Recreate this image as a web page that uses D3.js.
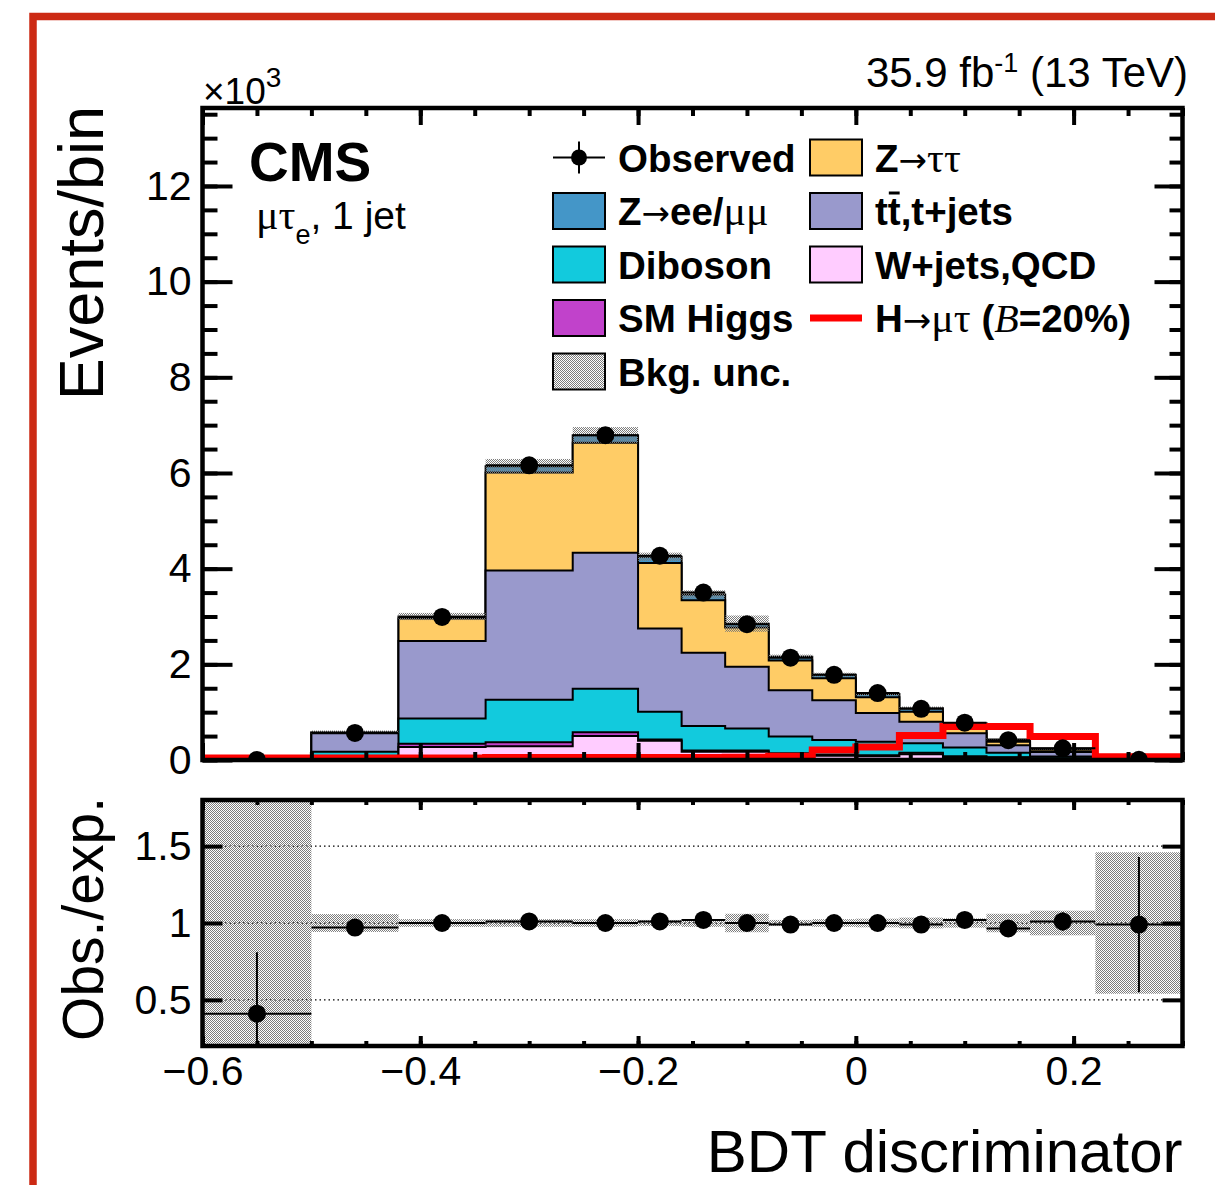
<!DOCTYPE html>
<html>
<head>
<meta charset="utf-8">
<script src="https://cdn.jsdelivr.net/npm/d3@7"></script>
<style>
    body{ margin:0; background:#fff; }
    svg{ display:block; }
</style>
</head>
<body>
<svg id="chart" width="1215" height="1185"></svg>
<script>
// bin edges of the BDT discriminator
var binEdges = [-0.6, -0.5, -0.42, -0.34, -0.26, -0.2, -0.16, -0.12, -0.08, -0.04, 0, 0.04, 0.08, 0.12, 0.16, 0.22, 0.3];

// expected backgrounds, thousands of events per bin (stack order bottom -> top)
var wjetsQcd = [0, 0.04, 0.27, 0.29, 0.50, 0.40, 0.17, 0.17, 0.11, 0.09, 0.08, 0.12, 0.06, 0.05, 0.03, 0.0005];
var smHiggs  = [0, 0.005, 0.07, 0.08, 0.08, 0.03, 0.03, 0.03, 0.03, 0.02, 0.02, 0.03, 0.02, 0.01, 0.005, 0];
var diboson  = [0.0003, 0.125, 0.53, 0.89, 0.91, 0.58, 0.51, 0.46, 0.35, 0.31, 0.28, 0.20, 0.18, 0.09, 0.04, 0.001];
var ttbar    = [0.0017, 0.39, 1.62, 2.70, 2.84, 1.74, 1.53, 1.29, 0.97, 0.83, 0.60, 0.45, 0.30, 0.16, 0.09, 0.002];
var zTauTau  = [0.0003, 0.012, 0.47, 2.05, 2.30, 1.37, 1.10, 0.82, 0.62, 0.46, 0.33, 0.21, 0.15, 0.07, 0.05, 0.001];
var zLL      = [0.0002, 0.01, 0.04, 0.13, 0.16, 0.13, 0.12, 0.08, 0.08, 0.07, 0.07, 0.07, 0.06, 0.05, 0.025, 0.0005];

// relative background uncertainty per bin
var bkgUnc   = [1.0, 0.058, 0.025, 0.025, 0.025, 0.02, 0.025, 0.06, 0.02, 0.025, 0.028, 0.035, 0.03, 0.06, 0.08, 0.46];

// signal H->mutau (B=20%), thousands of events
var signal   = [0.04, 0.04, 0.04, 0.05, 0.05, 0.05, 0.05, 0.06, 0.08, 0.21, 0.27, 0.51, 0.70, 0.70, 0.49, 0.07];

// observed, thousands of events
var observed = [0.001, 0.565, 2.99, 6.16, 6.79, 4.27, 3.50, 2.84, 2.14, 1.78, 1.40, 1.07, 0.78, 0.415, 0.245, 0.005];

// obs./exp. ratio and its error bars
var ratio      = [0.41, 0.97, 1.0, 1.01, 1.0, 1.01, 1.02, 1.0, 0.99, 1.0, 1.0, 0.99, 1.02, 0.965, 1.01, 0.99];
var ratioErrUp = [0.40, 0.02, 0.02, 0.015, 0.015, 0.02, 0.02, 0.02, 0.025, 0.025, 0.03, 0.03, 0.04, 0.05, 0.06, 0.44];
var ratioErrDn = [0.41, 0.02, 0.02, 0.015, 0.015, 0.02, 0.02, 0.02, 0.025, 0.025, 0.03, 0.03, 0.04, 0.05, 0.06, 0.44];

// tick labels
var yTicks      = [0, 2, 4, 6, 8, 10, 12];
var ratioTicks  = [0.5, 1, 1.5];
var xTicks      = [-0.6, -0.4, -0.2, 0, 0.2];

var SANS = '"Liberation Sans", Arial, Helvetica, sans-serif',
    SERIF = '"Liberation Serif", "Times New Roman", serif',
    ARROW = '"DejaVu Sans", sans-serif';

var svg = d3.select('#chart'),
    box = { left: 202.5, right: 1182.5, top: 108, bottom: 760 },
    rbox = { top: 800, bottom: 1046 };

var x = d3.scaleLinear().domain([-0.6, 0.3]).range([box.left, box.right]),
    y = d3.scaleLinear().domain([0, 13.63]).range([box.bottom, box.top]),
    yr = d3.scaleLinear().domain([0.2, 1.8]).range([rbox.bottom, rbox.top]);

var nBins = binEdges.length - 1;

// hatch pattern for the uncertainty band
var defs = svg.append('defs');
var pat = defs.append('pattern')
    .attr('id', 'hatch')
    .attr('patternUnits', 'userSpaceOnUse')
    .attr('width', 2)
    .attr('height', 2);
pat.append('rect').attr('x', 0).attr('y', 0).attr('width', 1).attr('height', 1).attr('fill', '#7c7c7c');
pat.append('rect').attr('x', 1).attr('y', 1).attr('width', 1).attr('height', 1).attr('fill', '#7c7c7c');

defs.append('clipPath').attr('id', 'clipTop')
    .append('rect')
    .attr('x', box.left).attr('y', box.top)
    .attr('width', box.right - box.left).attr('height', box.bottom - box.top);
defs.append('clipPath').attr('id', 'clipRatio')
    .append('rect')
    .attr('x', box.left).attr('y', rbox.top)
    .attr('width', box.right - box.left).attr('height', rbox.bottom - rbox.top);

// red outer frame
svg.append('path')
    .attr('d', 'M33,1200 L33,16.5 L1230,16.5')
    .attr('fill', 'none')
    .attr('stroke', 'rgb(204,42,20)')
    .attr('stroke-width', 7.5);

// ---------- stacked backgrounds ----------
var layers = [
    { vals: wjetsQcd, color: '#ffccff' },
    { vals: smHiggs,  color: '#c142cb' },
    { vals: diboson,  color: '#12cadd' },
    { vals: ttbar,    color: '#9999cc' },
    { vals: zTauTau,  color: '#ffcc66' },
    { vals: zLL,      color: '#4496c8' }
];

var running = binEdges.slice(0, nBins).map(function(){ return 0; });
layers.forEach(function( l ){
    running = running.map(function( r, i ){ return r + l.vals[i]; });
    l.cum = running.slice();
});
var mcTotal = running;

function stepData( vals ){
    return binEdges.map(function( e, i ){
        return { e: e, v: vals[Math.min(i, nBins - 1)] };
    });
}

var topG = svg.append('g').attr('clip-path', 'url(#clipTop)');

var area = d3.area()
    .x(function( d ){ return x(d.e); })
    .y0(y(0))
    .y1(function( d ){ return y(d.v); })
    .curve(d3.curveStepAfter);

layers.slice().reverse().forEach(function( l ){
    topG.append('path')
        .attr('d', area(stepData(l.cum)))
        .attr('fill', l.color)
        .attr('stroke', '#000')
        .attr('stroke-width', 2);
});

// uncertainty band
topG.selectAll('rect.unc')
    .data(mcTotal)
    .enter().append('rect')
    .attr('class', 'unc')
    .attr('x', function( d, i ){ return x(binEdges[i]); })
    .attr('width', function( d, i ){ return x(binEdges[i + 1]) - x(binEdges[i]); })
    .attr('y', function( d, i ){ return y(d * (1 + bkgUnc[i])); })
    .attr('height', function( d, i ){ return y(d * (1 - bkgUnc[i])) - y(d * (1 + bkgUnc[i])); })
    .attr('fill', 'url(#hatch)');

// signal
topG.append('path')
    .attr('d', d3.line()
        .x(function( d ){ return x(d.e); })
        .y(function( d ){ return y(d.v); })
        .curve(d3.curveStepAfter)(stepData(signal)))
    .attr('fill', 'none')
    .attr('stroke', '#ff0000')
    .attr('stroke-width', 7);

// observed
var obsG = topG.append('g');
observed.forEach(function( v, i ){
    obsG.append('line')
        .attr('x1', x(binEdges[i])).attr('x2', x(binEdges[i + 1]))
        .attr('y1', y(v)).attr('y2', y(v))
        .attr('stroke', '#000').attr('stroke-width', 2);
    obsG.append('circle')
        .attr('cx', x((binEdges[i] + binEdges[i + 1]) / 2))
        .attr('cy', y(v))
        .attr('r', 9)
        .attr('fill', '#000');
});

// ---------- ratio panel ----------
var rg = svg.append('g').attr('clip-path', 'url(#clipRatio)');

ratioTicks.forEach(function( r ){
    rg.append('line')
        .attr('x1', box.left).attr('x2', box.right)
        .attr('y1', yr(r)).attr('y2', yr(r))
        .attr('stroke', '#000').attr('stroke-width', 1.3)
        .attr('stroke-dasharray', '1.5,3');
});

rg.selectAll('rect.unc')
    .data(bkgUnc)
    .enter().append('rect')
    .attr('class', 'unc')
    .attr('x', function( d, i ){ return x(binEdges[i]); })
    .attr('width', function( d, i ){ return x(binEdges[i + 1]) - x(binEdges[i]); })
    .attr('y', function( d ){ return yr(1 + d); })
    .attr('height', function( d ){ return yr(1 - d) - yr(1 + d); })
    .attr('fill', 'url(#hatch)');

ratio.forEach(function( r, i ){
    var cx = x((binEdges[i] + binEdges[i + 1]) / 2);
    rg.append('line')
        .attr('x1', x(binEdges[i])).attr('x2', x(binEdges[i + 1]))
        .attr('y1', yr(r)).attr('y2', yr(r))
        .attr('stroke', '#000').attr('stroke-width', 2);
    rg.append('line')
        .attr('x1', cx).attr('x2', cx)
        .attr('y1', yr(r + ratioErrUp[i])).attr('y2', yr(r - ratioErrDn[i]))
        .attr('stroke', '#000').attr('stroke-width', 2);
    rg.append('circle')
        .attr('cx', cx).attr('cy', yr(r)).attr('r', 9).attr('fill', '#000');
});

// ---------- axes ----------
function styleAxis( g, withText ){
    g.select('.domain').remove();
    g.selectAll('line').attr('stroke', '#000').attr('stroke-width', 4);
    if ( withText ){
        g.selectAll('text')
            .attr('font-family', SANS)
            .attr('font-size', 41)
            .attr('fill', '#000');
    }else{
        g.selectAll('text').remove();
    }
}

var xMinor = d3.range(-0.6, 0.301, 0.05),
    yMinor = d3.range(0, 13.6, 0.5);

// top panel y
svg.append('g').attr('transform', 'translate(' + box.left + ',0)')
    .call(d3.axisLeft(y).tickValues(yMinor).tickSizeInner(-15).tickSizeOuter(0))
    .call(styleAxis, false);
svg.append('g').attr('transform', 'translate(' + box.left + ',0)')
    .call(d3.axisLeft(y).tickValues(yTicks).tickSizeInner(-30).tickSizeOuter(0).tickPadding(11).tickFormat(d3.format('')))
    .call(styleAxis, true);
svg.append('g').attr('transform', 'translate(' + box.right + ',0)')
    .call(d3.axisRight(y).tickValues(yMinor).tickSizeInner(-13).tickSizeOuter(0))
    .call(styleAxis, false);
svg.append('g').attr('transform', 'translate(' + box.right + ',0)')
    .call(d3.axisRight(y).tickValues(yTicks).tickSizeInner(-28).tickSizeOuter(0))
    .call(styleAxis, false);

// top panel x
[[box.bottom, 'bottom'], [box.top, 'top']].forEach(function( p ){
    var mk = p[1] === 'bottom' ? d3.axisBottom : d3.axisTop;
    svg.append('g').attr('transform', 'translate(0,' + p[0] + ')')
        .call(mk(x).tickValues(xMinor).tickSizeInner(-8).tickSizeOuter(0))
        .call(styleAxis, false);
    svg.append('g').attr('transform', 'translate(0,' + p[0] + ')')
        .call(mk(x).tickValues(xTicks).tickSizeInner(-17).tickSizeOuter(0))
        .call(styleAxis, false);
});

// ratio x
svg.append('g').attr('transform', 'translate(0,' + rbox.top + ')')
    .call(d3.axisTop(x).tickValues(xMinor).tickSizeInner(-5).tickSizeOuter(0))
    .call(styleAxis, false);
svg.append('g').attr('transform', 'translate(0,' + rbox.top + ')')
    .call(d3.axisTop(x).tickValues(xTicks).tickSizeInner(-10).tickSizeOuter(0))
    .call(styleAxis, false);
svg.append('g').attr('transform', 'translate(0,' + rbox.bottom + ')')
    .call(d3.axisBottom(x).tickValues(xMinor).tickSizeInner(-5).tickSizeOuter(0))
    .call(styleAxis, false);
svg.append('g').attr('transform', 'translate(0,' + rbox.bottom + ')')
    .call(d3.axisBottom(x).tickValues(xTicks).tickSizeInner(-10).tickSizeOuter(0).tickPadding(10).tickFormat(d3.format('')))
    .call(styleAxis, true);

// ratio y
svg.append('g').attr('transform', 'translate(' + box.left + ',0)')
    .call(d3.axisLeft(yr).tickValues(ratioTicks).tickSizeInner(-20).tickSizeOuter(0).tickPadding(11).tickFormat(d3.format('')))
    .call(styleAxis, true);
svg.append('g').attr('transform', 'translate(' + box.right + ',0)')
    .call(d3.axisRight(yr).tickValues(ratioTicks).tickSizeInner(-20).tickSizeOuter(0))
    .call(styleAxis, false);

// frames
[[box.top, box.bottom], [rbox.top, rbox.bottom]].forEach(function( f ){
    svg.append('rect')
        .attr('x', box.left).attr('y', f[0])
        .attr('width', box.right - box.left).attr('height', f[1] - f[0])
        .attr('fill', 'none')
        .attr('stroke', '#000')
        .attr('stroke-width', 4.5);
});

// ---------- texts ----------
function rich( g, tx, ty, parts, size, anchor ){
    var t = g.append('text')
        .attr('x', tx).attr('y', ty)
        .attr('font-size', size)
        .attr('text-anchor', anchor || 'start')
        .attr('fill', '#000');
    parts.forEach(function( p ){
        var s = t.append('tspan').text(p.t)
            .attr('font-family', p.arrow ? ARROW : ( p.serif ? SERIF : SANS ))
            .attr('font-weight', p.bold ? 'bold' : 'normal');
        if ( p.italic ){ s.attr('font-style', 'italic'); }
        if ( p.size ){ s.attr('font-size', p.size); }
        if ( p.dy ){ s.attr('dy', p.dy); }
    });
    return t;
}

var txt = svg.append('g');

rich(txt, 1188, 87, [
    { t: '35.9 fb' },
    { t: '-1', size: 27, dy: -15 },
    { t: ' (13 TeV)', dy: 15 }
], 42, 'end');

rich(txt, 203, 104, [
    { t: '\u00d710' },
    { t: '3', size: 28, dy: -17 }
], 37);

rich(txt, 249, 181, [{ t: 'CMS', bold: true }], 55);

rich(txt, 256, 229, [
    { t: '\u03bc\u03c4', serif: true, size: 42 },
    { t: 'e', size: 27, dy: 15 },
    { t: ', 1 jet', dy: -15 }
], 39);

txt.append('text')
    .attr('transform', 'translate(103,106) rotate(-90)')
    .attr('text-anchor', 'end')
    .attr('font-family', SANS)
    .attr('font-size', 63)
    .text('Events/bin');

txt.append('text')
    .attr('transform', 'translate(103,797) rotate(-90)')
    .attr('text-anchor', 'end')
    .attr('font-family', SANS)
    .attr('font-size', 57)
    .text('Obs./exp.');

txt.append('text')
    .attr('x', box.right).attr('y', 1172)
    .attr('text-anchor', 'end')
    .attr('font-family', SANS)
    .attr('font-size', 60)
    .text('BDT discriminator');

// ---------- legend ----------
var leg = svg.append('g'),
    rowY = [157.5, 211, 264.5, 318, 371.5],
    colX = [553, 810],
    boxW = 52, boxH = 36, LS = 38.5;

function legBox( col, row, fill ){
    leg.append('rect')
        .attr('x', colX[col]).attr('y', rowY[row] - boxH / 2)
        .attr('width', boxW).attr('height', boxH)
        .attr('fill', fill)
        .attr('stroke', '#000').attr('stroke-width', 2);
}
function legText( col, row, parts ){
    return rich(leg, colX[col] + 65, rowY[row] + 14, parts, LS);
}

// observed marker
leg.append('line')
    .attr('x1', colX[0]).attr('x2', colX[0] + boxW)
    .attr('y1', rowY[0]).attr('y2', rowY[0])
    .attr('stroke', '#000').attr('stroke-width', 2);
leg.append('line')
    .attr('x1', colX[0] + boxW / 2).attr('x2', colX[0] + boxW / 2)
    .attr('y1', rowY[0] - 16).attr('y2', rowY[0] + 16)
    .attr('stroke', '#000').attr('stroke-width', 2);
leg.append('circle')
    .attr('cx', colX[0] + boxW / 2).attr('cy', rowY[0]).attr('r', 8).attr('fill', '#000');
legText(0, 0, [{ t: 'Observed', bold: true }]);

legBox(1, 0, layers[4].color);
legText(1, 0, [{ t: 'Z', bold: true }, { t: '\u2192', arrow: true, size: 34 }, { t: '\u03c4\u03c4', serif: true, size: 42 }]);

legBox(0, 1, layers[5].color);
legText(0, 1, [{ t: 'Z', bold: true }, { t: '\u2192', arrow: true, size: 34 }, { t: 'ee/', bold: true }, { t: '\u03bc\u03bc', serif: true, size: 42 }]);

legBox(1, 1, layers[3].color);
var ttText = legText(1, 1, [{ t: 'tt,t+jets', bold: true }]);
var ext = ttText.node().getExtentOfChar(1);
leg.append('line')
    .attr('x1', ext.x + 1).attr('x2', ext.x + ext.width - 1)
    .attr('y1', rowY[1] - 18).attr('y2', rowY[1] - 18)
    .attr('stroke', '#000').attr('stroke-width', 3);

legBox(0, 2, layers[2].color);
legText(0, 2, [{ t: 'Diboson', bold: true }]);

legBox(1, 2, layers[0].color);
legText(1, 2, [{ t: 'W+jets,QCD', bold: true }]);

legBox(0, 3, layers[1].color);
legText(0, 3, [{ t: 'SM Higgs', bold: true }]);

leg.append('line')
    .attr('x1', colX[1]).attr('x2', colX[1] + boxW)
    .attr('y1', rowY[3]).attr('y2', rowY[3])
    .attr('stroke', '#ff0000').attr('stroke-width', 7);
legText(1, 3, [
    { t: 'H', bold: true },
    { t: '\u2192', arrow: true, size: 34 },
    { t: '\u03bc\u03c4', serif: true, size: 42 },
    { t: ' (', bold: true },
    { t: 'B', serif: true, italic: true, size: 40 },
    { t: '=20%)', bold: true }
]);

legBox(0, 4, 'url(#hatch)');
legText(0, 4, [{ t: 'Bkg. unc.', bold: true }]);
</script>
</body>
</html>
